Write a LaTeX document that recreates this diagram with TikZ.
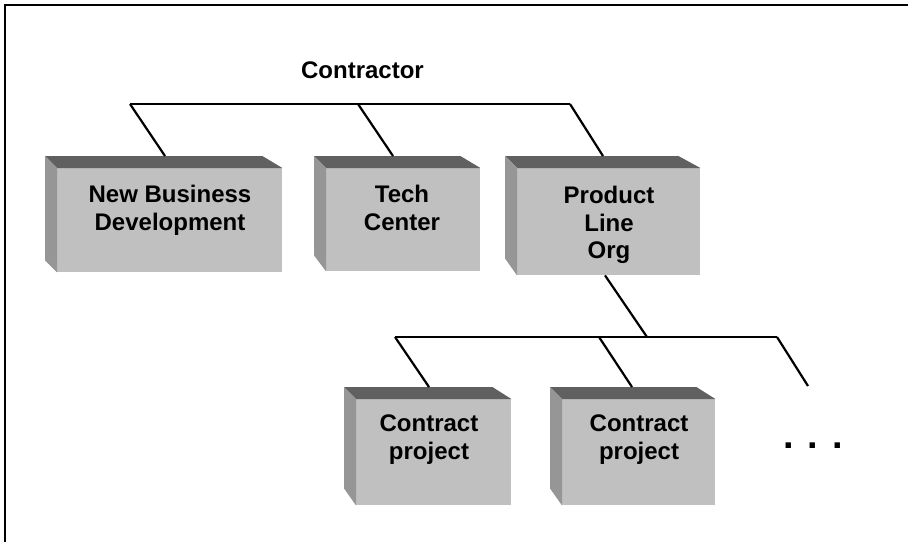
\documentclass[tikz,border=0pt]{standalone}
\usepackage{fontspec}
\setmainfont{Liberation Sans}
\usetikzlibrary{calc}
\definecolor{topgray}{HTML}{606060}
\definecolor{sidegray}{HTML}{969696}
\definecolor{frontgray}{HTML}{C0C0C0}
\tikzset{
  frontface/.style={fill=frontgray, draw=none, inner sep=0pt, anchor=north west},
  topface/.style={fill=topgray, draw=none},
  sideface/.style={fill=sidegray, draw=none},
  label/.style={font=\fontsize{24}{27.5}\selectfont\bfseries, align=center, inner sep=0pt, anchor=north},
  conn/.style={draw=black, line width=2.2pt},
  frameline/.style={draw=black, line width=1.6pt}
}
\begin{document}
\begin{tikzpicture}[x=1pt, y=-1pt]
\useasboundingbox (0,0) rectangle (912,542);
% frame
\coordinate (f0) at (5,5);
\coordinate (f1) at (908,5);
\coordinate (f2) at (5,542);
\draw[frameline] (f1) -- (f0) -- (f2);

% boxes: front faces
\node[frontface, minimum width=225pt, minimum height=104pt] (b1) at (57,168) {};
\node[frontface, minimum width=154pt, minimum height=103pt] (b2) at (326,168) {};
\node[frontface, minimum width=183pt, minimum height=107pt] (b3) at (517,168) {};
\node[frontface, minimum width=155pt, minimum height=106pt] (b4) at (356,399) {};
\node[frontface, minimum width=153pt, minimum height=106pt] (b5) at (562,399) {};

% top and side faces
\foreach \b/\dr/\db in {b1/20/12, b2/20/16, b3/22/17, b4/19/17, b5/19/17}{
  \fill[topface] (\b.north west) -- ++(-12,-12) -- ($(\b.north east)+(-\dr,-12)$) -- (\b.north east) -- cycle;
  \fill[sideface] (\b.north west) -- ++(-12,-12) -- ($(\b.south west)+(-12,-\db)$) -- (\b.south west) -- cycle;
}

% labels
\node[label] (t1) at (170,185) {New Business\\Development};
\node[label] (t2) at (402,185) {Tech\\Center};
\node[label] (t3) at (609,186) {Product\\Line\\Org};
\node[label] (t4) at (429,415) {Contract\\project};
\node[label] (t5) at (639,415) {Contract\\project};
\node[font=\fontsize{24}{27.5}\selectfont\bfseries, inner sep=0pt, anchor=base] (root) at (362.5,78) {Contractor};
\node[font=\fontsize{38}{40}\selectfont\bfseries, inner sep=0pt, anchor=base] (more) at (813,448) {. . .};

% connector coordinates
\coordinate (c1) at (130,104);
\coordinate (c2) at (358,104);
\coordinate (c3) at (570,104);
\coordinate (a1) at ($(b1.north west)+(108,-12)$);
\coordinate (a2) at ($(b2.north west)+(67,-12)$);
\coordinate (a3) at ($(b3.north west)+(86,-12)$);
\coordinate (p0) at ($(b3.south west)+(88,0)$);
\coordinate (d1) at (395,337);
\coordinate (d2) at (599,337);
\coordinate (d3) at (777,337);
\coordinate (pm) at (647,337);
\coordinate (a4) at ($(b4.north west)+(73,-12)$);
\coordinate (a5) at ($(b5.north west)+(70,-12)$);
\coordinate (a6) at (808,386);

\draw[conn] (c1) -- (c3);
\draw[conn] (c1) -- (a1);
\draw[conn] (c2) -- (a2);
\draw[conn] (c3) -- (a3);
\draw[conn] (p0) -- (pm);
\draw[conn] (d1) -- (d3);
\draw[conn] (d1) -- (a4);
\draw[conn] (d2) -- (a5);
\draw[conn] (d3) -- (a6);
\end{tikzpicture}
\end{document}
